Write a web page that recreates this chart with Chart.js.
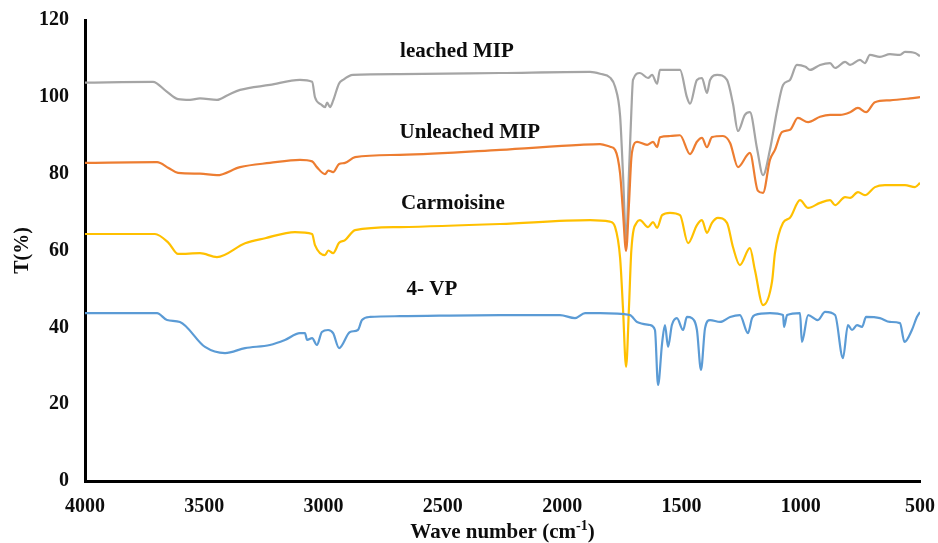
<!DOCTYPE html>
<html>
<head>
<meta charset="utf-8">
<script src="https://cdn.jsdelivr.net/npm/chart.js@4.4.0/dist/chart.umd.min.js"></script>
<style>
  html, body { margin: 0; padding: 0; background: #fff; }
  #wrap { width: 938px; height: 543px; }
</style>
</head>
<body>
<div id="wrap"><canvas id="ftir" width="938" height="543"></canvas></div>
<script>
// FTIR spectra, wavenumber (cm-1) vs transmittance (%)
const xTicks = [4000, 3500, 3000, 2500, 2000, 1500, 1000, 500];
const yTicks = [0, 20, 40, 60, 80, 100, 120];

const leachedWn = [4000,3715,3660,3610,3560,3518,3447,3400,3350,3225,3099,3048,3036,3010,2994,2985,2973,2960,2935,2919,2877,2680,2260,1883,1841,1799,1778,1757,1745,1732,1720,1710,1703,1674,1640,1623,1602,1590,1560,1506,1477,1464,1435,1414,1393,1380,1350,1309,1284,1263,1234,1213,1183,1158,1129,1099,1074,1045,1016,980,961,919,877,856,814,793,752,731,710,668,626,584,563,521,500];
const leachedT  = [103.7,103.9,101.5,99.4,99.2,99.6,99.2,100.5,101.8,103.1,104.4,103.9,99.9,98,97.3,98.5,97.3,99,103.5,104.4,105.7,105.9,106.2,106.5,106,105,102.6,95,80,62.7,80,96,104.4,106.2,104.9,105.7,103.4,107,107,107,99.9,98.2,104.4,104.9,101,104.4,105.7,104.4,98.2,91.1,95.3,96,86.5,79.6,86.2,96.5,103.1,104.4,108.3,107.8,107,108.3,108.8,107.5,109.1,108.3,109.6,108.8,110.9,110.4,111.1,110.9,111.7,111.4,110.6];

const unleachedWn = [4000,3698,3650,3610,3518,3447,3350,3225,3099,3048,3028,2994,2980,2960,2935,2910,2868,2680,2260,1925,1841,1799,1778,1757,1745,1732,1720,1710,1703,1686,1644,1619,1602,1590,1548,1506,1464,1435,1414,1393,1372,1326,1296,1263,1213,1180,1158,1129,1108,1079,1045,1012,969,919,877,835,793,760,726,689,626,542,500];
const unleachedT  = [82.8,83,81.5,80.2,80,79.6,81.7,82.8,83.6,83.2,81.7,79.9,80.8,80.4,82.5,82.8,84.3,84.9,86.2,87.5,87.7,87,86.2,80,70,59.9,72,84,86.9,88.3,87.5,88.3,86.9,89.5,89.8,90,85.1,88.3,89.3,86.9,89.5,89.8,88,81.7,85.4,75.6,75,83.6,86.2,90.8,91.4,94.5,93.4,94.8,95.3,95.3,96,97.1,96,98.6,99.1,99.6,99.9];

const carmoisineWn = [4000,3707,3650,3610,3518,3447,3329,3245,3120,3048,3036,2994,2980,2960,2935,2910,2868,2680,2260,1883,1800,1778,1757,1745,1732,1720,1710,1686,1674,1640,1619,1602,1581,1548,1506,1472,1435,1414,1393,1372,1347,1309,1284,1255,1213,1192,1158,1120,1108,1074,1045,1003,969,919,877,856,814,793,760,731,689,647,605,563,521,500];
const carmoisineT  = [64.3,64.3,62,59.1,59.3,58.3,61.9,63.2,64.8,64.3,61.4,58.8,60,59.3,62,62.7,65.3,66.1,66.9,67.9,67.5,66.1,58,45,29.7,45,60,67.4,67.9,66.1,67.4,65.9,69.2,69.8,69.2,61.9,66.6,67.9,64.6,67.2,68.5,67.2,60.9,56.2,60.6,54.9,45.8,52,59.3,67.2,68.5,73.1,71.1,72.4,73.1,71.8,73.9,73.7,75.2,74.4,76.5,77,77,77,76.5,77.6];

const vpWn = [4000,3698,3656,3602,3497,3413,3329,3225,3162,3099,3078,3069,3048,3028,3007,2981,2960,2935,2889,2856,2839,2805,2680,2260,2009,1946,1904,1841,1716,1686,1632,1611,1598,1581,1569,1556,1540,1519,1493,1477,1456,1435,1418,1401,1380,1338,1296,1255,1221,1204,1192,1129,1074,1070,1057,1003,995,969,928,898,856,823,802,785,764,743,726,668,626,584,565,534,513,500];
const vpT  = [43.7,43.7,41.9,41.4,34.9,33.3,34.6,35.4,36.7,38.5,38.5,36.7,37.2,35.4,38.8,39.3,38.5,34.6,38.8,39.3,41.9,42.7,42.9,43.2,43.2,42.4,43.7,43.7,43.2,41.4,40.6,39.3,25,35.9,40.6,34.9,40.6,42.4,39.3,42.7,42.4,39.3,28.9,39.8,41.9,41.4,42.7,43.2,38.5,42.4,43.2,43.7,43.2,40.1,43.2,43.7,36.2,43.2,41.9,44,43.2,32,40.6,39.3,40.6,40.1,42.7,42.4,41.4,41.1,36.2,39.3,42.7,44];

const seriesNames = ["leached MIP", "Unleached MIP", "Carmoisine", "4- VP"];
const labelWn = [2441, 2387, 2458, 2546];
const labelT  = [111.7, 90.6, 72.1, 49.7];

function pts(wn, t) { return wn.map((w, i) => ({ x: w, y: t[i] })); }

const SERIF = "'Liberation Serif', 'Times New Roman', serif";
const INK = "#0d0d0d";

// series captions + x title with superscript
const textPlugin = {
  id: "ftirText",
  afterDraw(chart) {
    const { ctx, scales: { x, y }, chartArea } = chart;
    ctx.save();
    ctx.fillStyle = INK;
    ctx.font = "bold 21px " + SERIF;
    ctx.textAlign = "center";
    ctx.textBaseline = "middle";
    seriesNames.forEach((n, i) => {
      ctx.fillText(n, x.getPixelForValue(labelWn[i]), y.getPixelForValue(labelT[i]));
    });

    // "Wave number (cm-1)"
    const part1 = "Wave number (cm", sup = "-1", part3 = ")";
    ctx.font = "bold 21px " + SERIF;
    const w1 = ctx.measureText(part1).width, w3 = ctx.measureText(part3).width;
    ctx.font = "bold 14px " + SERIF;
    const w2 = ctx.measureText(sup).width;
    const total = w1 + w2 + w3;
    let cx = (chartArea.left + chartArea.right) / 2 - total / 2;
    const base = 538;
    ctx.textAlign = "left";
    ctx.textBaseline = "alphabetic";
    ctx.font = "bold 21px " + SERIF;
    ctx.fillText(part1, cx, base);
    ctx.font = "bold 14px " + SERIF;
    ctx.fillText(sup, cx + w1, base - 8);
    ctx.font = "bold 21px " + SERIF;
    ctx.fillText(part3, cx + w1 + w2, base);
    ctx.restore();
  }
};

const common = { pointRadius: 0, borderWidth: 2.2, fill: false, cubicInterpolationMode: "monotone" };

new Chart(document.getElementById("ftir"), {
  type: "line",
  data: {
    datasets: [
      { label: "4- VP", data: pts(vpWn, vpT), borderColor: "#5B9BD5", ...common },
      { label: "Carmoisine", data: pts(carmoisineWn, carmoisineT), borderColor: "#FFC000", ...common },
      { label: "Unleached MIP", data: pts(unleachedWn, unleachedT), borderColor: "#ED7D31", ...common },
      { label: "leached MIP", data: pts(leachedWn, leachedT), borderColor: "#A5A5A5", ...common }
    ]
  },
  options: {
    responsive: false,
    animation: false,
    layout: { padding: { top: 20, right: 18, left: 0, bottom: 0 } },
    plugins: { legend: { display: false }, tooltip: { enabled: false } },
    scales: {
      x: {
        type: "linear",
        reverse: true,
        min: 500, max: 4000,
        afterBuildTicks: s => { s.ticks = xTicks.map(v => ({ value: v })); },
        afterFit: s => { s.height = 62; s.paddingLeft = 0; s.paddingRight = 0; },
        grid: { display: false, drawTicks: false },
        border: { display: true, color: "#000", width: 3 },
        ticks: { color: INK, padding: 14, maxRotation: 0, callback: v => String(v), font: { family: SERIF, size: 20, weight: "bold" } }
      },
      y: {
        min: 0, max: 120,
        afterBuildTicks: s => { s.ticks = yTicks.map(v => ({ value: v })); },
        afterFit: s => { s.width = 85; s.paddingTop = 0; s.paddingBottom = 0; },
        grid: { display: false, drawTicks: false },
        border: { display: true, color: "#000", width: 3 },
        title: { display: true, text: "T(%)", color: INK, padding: { top: 11, bottom: 0 }, font: { family: SERIF, size: 20, weight: "bold" } },
        ticks: { color: INK, padding: 16, callback: v => String(v), font: { family: SERIF, size: 20, weight: "bold" } }
      }
    }
  },
  plugins: [textPlugin]
});
</script>
</body>
</html>
